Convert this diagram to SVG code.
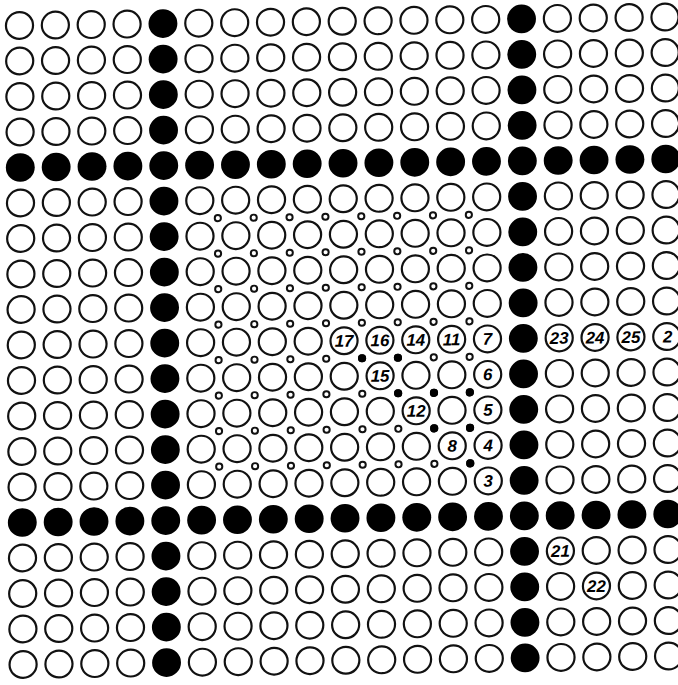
<svg xmlns="http://www.w3.org/2000/svg" width="678" height="685" viewBox="0 0 678 685">
<style>
.o{fill:#fff;stroke:#111;stroke-width:2.2}
.k{fill:#000}
.s{fill:#fff;stroke:#111;stroke-width:2}
.d{fill:#000}
.t{font-family:"Liberation Sans",Arial,sans-serif;font-size:17px;font-weight:bold;font-style:italic;text-anchor:middle;fill:#000}
</style>
<defs>
<g id="row">
<circle class="o" cx="0" cy="0" r="13.6"/>
<circle class="o" cx="36" cy="0" r="13.6"/>
<circle class="o" cx="72" cy="0" r="13.6"/>
<circle class="o" cx="108" cy="0" r="13.6"/>
<circle class="k" cx="144" cy="0" r="14.5"/>
<circle class="o" cx="180" cy="0" r="13.6"/>
<circle class="o" cx="216" cy="0" r="13.6"/>
<circle class="o" cx="252" cy="0" r="13.6"/>
<circle class="o" cx="288" cy="0" r="13.6"/>
<circle class="o" cx="324" cy="0" r="13.6"/>
<circle class="o" cx="360" cy="0" r="13.6"/>
<circle class="o" cx="396" cy="0" r="13.6"/>
<circle class="o" cx="432" cy="0" r="13.6"/>
<circle class="o" cx="468" cy="0" r="13.6"/>
<circle class="k" cx="504" cy="0" r="14.5"/>
<circle class="o" cx="540" cy="0" r="13.6"/>
<circle class="o" cx="576" cy="0" r="13.6"/>
<circle class="o" cx="612" cy="0" r="13.6"/>
<circle class="o" cx="648" cy="0" r="13.6"/>
</g>
<g id="brow">
<circle class="k" cx="0" cy="0" r="14.5"/>
<circle class="k" cx="36" cy="0" r="14.5"/>
<circle class="k" cx="72" cy="0" r="14.5"/>
<circle class="k" cx="108" cy="0" r="14.5"/>
<circle class="k" cx="144" cy="0" r="14.5"/>
<circle class="k" cx="180" cy="0" r="14.5"/>
<circle class="k" cx="216" cy="0" r="14.5"/>
<circle class="k" cx="252" cy="0" r="14.5"/>
<circle class="k" cx="288" cy="0" r="14.5"/>
<circle class="k" cx="324" cy="0" r="14.5"/>
<circle class="k" cx="360" cy="0" r="14.5"/>
<circle class="k" cx="396" cy="0" r="14.5"/>
<circle class="k" cx="432" cy="0" r="14.5"/>
<circle class="k" cx="468" cy="0" r="14.5"/>
<circle class="k" cx="504" cy="0" r="14.5"/>
<circle class="k" cx="540" cy="0" r="14.5"/>
<circle class="k" cx="576" cy="0" r="14.5"/>
<circle class="k" cx="612" cy="0" r="14.5"/>
<circle class="k" cx="648" cy="0" r="14.5"/>
</g>
<g id="srow">
<circle class="s" cx="198" cy="0" r="3.1"/>
<circle class="s" cx="234" cy="0" r="3.1"/>
<circle class="s" cx="270" cy="0" r="3.1"/>
<circle class="s" cx="306" cy="0" r="3.1"/>
<circle class="s" cx="342" cy="0" r="3.1"/>
<circle class="s" cx="378" cy="0" r="3.1"/>
<circle class="s" cx="414" cy="0" r="3.1"/>
<circle class="s" cx="450" cy="0" r="3.1"/>
</g>
</defs>
<rect width="678" height="685" fill="#fff"/>
<g transform="matrix(0.99611 -0.01306 0.00556 0.98611 19.5 25.5)">
<g id="grid">
<use href="#row" y="0"/>
<use href="#row" y="36"/>
<use href="#row" y="72"/>
<use href="#row" y="108"/>
<use href="#brow" y="144"/>
<use href="#row" y="180"/>
<use href="#row" y="216"/>
<use href="#row" y="252"/>
<use href="#row" y="288"/>
<use href="#row" y="324"/>
<use href="#row" y="360"/>
<use href="#row" y="396"/>
<use href="#row" y="432"/>
<use href="#row" y="468"/>
<use href="#brow" y="504"/>
<use href="#row" y="540"/>
<use href="#row" y="576"/>
<use href="#row" y="612"/>
<use href="#row" y="648"/>
</g>
<g id="small">
<use href="#srow" y="198"/>
<use href="#srow" y="234"/>
<use href="#srow" y="270"/>
<use href="#srow" y="306"/>
<use href="#srow" y="342"/>
<use href="#srow" y="378"/>
<use href="#srow" y="414"/>
<use href="#srow" y="450"/>
<circle class="d" cx="342" cy="342" r="4.1"/>
<circle class="d" cx="378" cy="342" r="4.1"/>
<circle class="d" cx="378" cy="378" r="4.1"/>
<circle class="d" cx="414" cy="378" r="4.1"/>
<circle class="d" cx="450" cy="378" r="4.1"/>
<circle class="d" cx="414" cy="414" r="4.1"/>
<circle class="d" cx="450" cy="414" r="4.1"/>
<circle class="d" cx="450" cy="450" r="4.1"/>
</g>
<g id="labels">
<text class="t" x="324" y="330">17</text>
<text class="t" x="360" y="330">16</text>
<text class="t" x="396" y="330">14</text>
<text class="t" x="432" y="330">11</text>
<text class="t" x="468" y="330">7</text>
<text class="t" x="360" y="366">15</text>
<text class="t" x="468" y="366">6</text>
<text class="t" x="396" y="402">12</text>
<text class="t" x="468" y="402">5</text>
<text class="t" x="432" y="438">8</text>
<text class="t" x="468" y="438">4</text>
<text class="t" x="468" y="474">3</text>
<text class="t" x="540" y="330">23</text>
<text class="t" x="576" y="330">24</text>
<text class="t" x="612" y="330">25</text>
<text class="t" x="649" y="330">2</text>
<text class="t" x="540" y="546">21</text>
<text class="t" x="576" y="582">22</text>
</g>
</g>
</svg>
